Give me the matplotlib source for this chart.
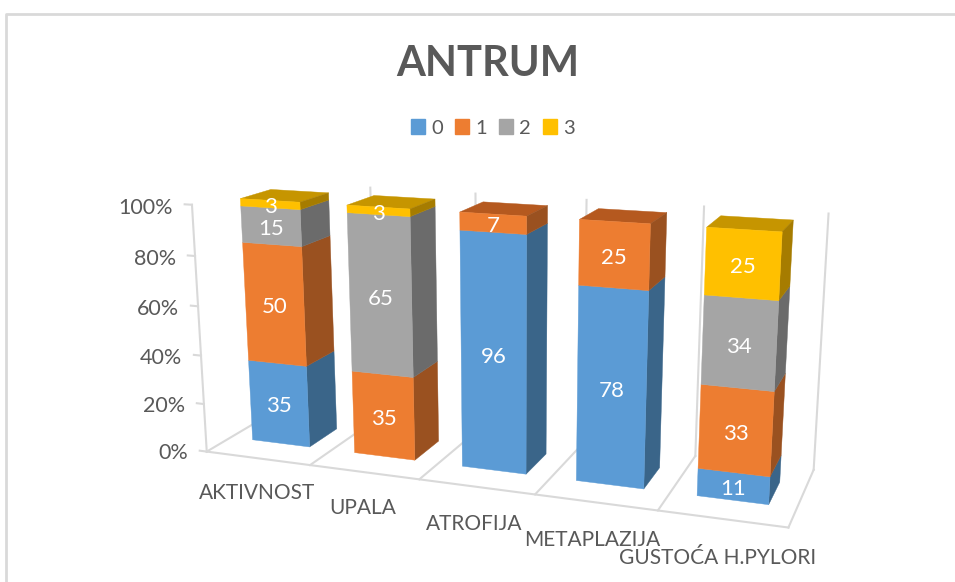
import numpy as np
import matplotlib
matplotlib.use('Agg')
import matplotlib.pyplot as plt
from matplotlib.patches import Patch
from matplotlib.lines import Line2D
from mpl_toolkits.mplot3d import proj3d
from mpl_toolkits.mplot3d.art3d import Poly3DCollection

plt.rcParams['font.family'] = ['Lato', 'DejaVu Sans']

title = 'ANTRUM'
categories = ['AKTIVNOST', 'UPALA', 'ATROFIJA', 'METAPLAZIJA', 'GUSTOĆA H.PYLORI']
series_names = ['0', '1', '2', '3']
s0 = [35, 0, 96, 78, 11]
s1 = [50, 35, 7, 25, 33]
s2 = [15, 65, 0, 0, 34]
s3 = [3, 3, 0, 0, 25]
ytick_values = [0, 0.2, 0.4, 0.6, 0.8, 1.0]
ytick_labels = ['0%', '20%', '40%', '60%', '80%', '100%']

W, H = 955, 582
S = 582
# camera and box, fitted to the reference
TX, TY = 18.6588, 54.6437
xl, xr, yf, yb = 0.2165, 0.7822, 0.3107, 0.7087

fig = plt.figure(figsize=(W/100, H/100), dpi=100, facecolor='white')
ax = fig.add_axes([((W-S)/2+TX)/W, -TY/H, S/W, 1], projection='3d', computed_zorder=False)
ax.set_xlim(0, 5); ax.set_ylim(0, 1); ax.set_zlim(0, 1)
ax.set_proj_type('persp', focal_length=0.44750)
ax.view_init(elev=14.9587, azim=-69.9124, roll=0.1218)
ax.set_box_aspect((3.8018, 1, 1.6391), zoom=1.12738)
ax.set_axis_off()

series = np.array([s0, s1, s2, s3], float)
totals = series.sum(axis=0)
fronts = ['#5B9BD5', '#ED7D31', '#A5A5A5', '#FFC000']
sides = ['#3A6589', '#9A5120', '#6B6B6B', '#A67C00']
tops = ['#4A80B0', '#B5591F', '#848484', '#C69500']
txt = '#595959'
grid = '#D9D9D9'


def label(x, y, z, s, **kw):
    u, v, _ = proj3d.proj_transform(x, y, z, ax.get_proj())
    ax.annotate(s, (u, v), xycoords='data', annotation_clip=False,
                ha=kw.pop('ha', 'center'), va='center', zorder=10, **kw)


lk = dict(color=grid, lw=1.5, clip_on=False, zorder=1)
for i in range(6):
    ax.plot([i, i], [0, 1], [0, 0], **lk)
    if i > 0:
        ax.plot([i, i], [1, 1], [0, 1], **lk)
ax.plot([0, 5], [0, 0], [0, 0], **lk)
ax.plot([0, 0], [0, 0], [0, 1], **lk)
for v, l in zip(ytick_values, ytick_labels):
    ax.plot([-0.07, 0], [0, 0], [v, v], **lk)
    label(-0.19, 0, v-0.018, l, ha='right', fontsize=15.5, color=txt)
for i, cat in enumerate(categories):
    label(i+0.48, 0, -0.15, cat, fontsize=15, color=txt)
    b = 0.0
    verts = []
    cols = []
    nz = [j for j in range(4) if series[j, i] > 0]
    for j in nz:
        t = b + series[j, i]/totals[i]
        x0_, x1_ = i+xl, i+xr
        verts.append([(x0_, yf, b), (x1_, yf, b), (x1_, yf, t), (x0_, yf, t)])
        cols.append(fronts[j])
        verts.append([(x1_, yf, b), (x1_, yb, b), (x1_, yb, t), (x1_, yf, t)])
        cols.append(sides[j])
        if j == nz[-1]:
            verts.append([(x0_, yf, t), (x1_, yf, t), (x1_, yb, t), (x0_, yb, t)])
            cols.append(tops[j])
        label((x0_+x1_)/2, yf, (b+t)/2-0.012, f'{series[j, i]:.0f}', fontsize=16, color='white')
        b = t
    poly = Poly3DCollection(verts, facecolors=cols, edgecolors=cols, linewidths=0.3,
                            zorder=2+i, clip_on=False)
    ax.add_collection3d(poly, autolim=False)

fig.text(488/W, 1-64/H, title, ha='center', va='center', fontsize=30, fontweight='bold', color=txt)
fig.legend(handles=[Patch(color=c_, label=n) for c_, n in zip(fronts, series_names)], ncol=4, loc='center',
           bbox_to_anchor=(493/W, 1-128/H), frameon=False, fontsize=14.5, labelcolor=txt,
           handlelength=0.7, handleheight=0.7, columnspacing=0.6, handletextpad=0.3)
fig.add_artist(Line2D([6/W, 6/W, 1], [0, 1-14/H, 1-14/H], color=grid, lw=2))
fig.savefig('out.png', dpi=100)
